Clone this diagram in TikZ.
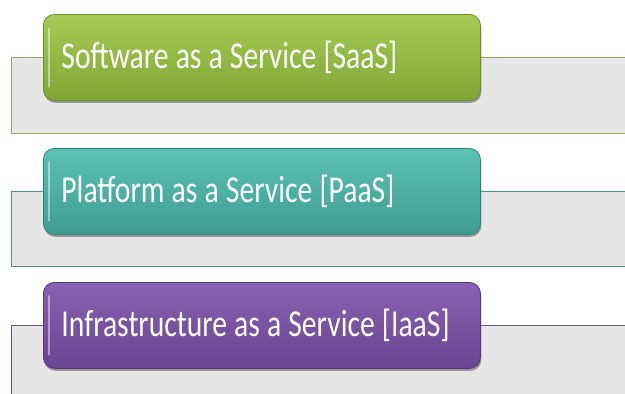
\documentclass[tikz,border=0pt]{standalone}
\usepackage{fontspec}
\setmainfont{Carlito}
\usetikzlibrary{shadows}
\definecolor{boxgrey}{HTML}{E6E6E6}
\definecolor{gtop}{HTML}{A6CB55}
\definecolor{gbot}{HTML}{7FA634}
\definecolor{gedge}{HTML}{6C8F2B}
\definecolor{gline}{HTML}{8FAA66}
\definecolor{ttop}{HTML}{5CC2B3}
\definecolor{tbot}{HTML}{3E9D90}
\definecolor{tedge}{HTML}{2F8478}
\definecolor{tline}{HTML}{4F8F88}
\definecolor{ptop}{HTML}{8762B0}
\definecolor{pbot}{HTML}{684591}
\definecolor{pedge}{HTML}{563A78}
\definecolor{pline}{HTML}{6C5483}
\newcommand{\svclabel}[1]{\scalebox{0.78}[1]{\fontsize{38}{42}\selectfont\spaceskip=0.24em\relax #1}}
\tikzset{
  panelbox/.style={fill=boxgrey, line width=0.9pt},
  svcnode/.style={rounded corners=11pt, minimum width=437pt, minimum height=86pt,
    text=white, anchor=north west,
    align=left, text width=401pt, inner xsep=18pt, line width=0.8pt,
    drop shadow={shadow xshift=1pt, shadow yshift=-2.5pt, opacity=0.35, fill=black}},
  gloss/.style={line width=1.6pt, line cap=round, white, opacity=0.45}
}
\begin{document}
\begin{tikzpicture}[x=1pt,y=-1pt]
\useasboundingbox (0,0) rectangle (625,394);
\clip (0,0) rectangle (625,394);
% panel 1
\draw[panelbox, draw=gline] (11,57) rectangle (640,133);
\node[svcnode, draw=gedge, top color=gtop, bottom color=gbot] (saas) at (43,14) {\svclabel{Software as a Service [SaaS]}};
\draw[gloss] ([xshift=6pt,yshift=-14pt]saas.north west) -- ([xshift=6pt,yshift=14pt]saas.south west);
% panel 2
\draw[panelbox, draw=tline] (11,191) rectangle (640,266);
\node[svcnode, draw=tedge, top color=ttop, bottom color=tbot] (paas) at (43,148) {\svclabel{Platform as a Service [PaaS]}};
\draw[gloss] ([xshift=6pt,yshift=-14pt]paas.north west) -- ([xshift=6pt,yshift=14pt]paas.south west);
% panel 3
\draw[panelbox, draw=pline] (11,325) rectangle (640,410);
\node[svcnode, draw=pedge, top color=ptop, bottom color=pbot] (iaas) at (43,282) {\svclabel{Infrastructure as a Service [IaaS]}};
\draw[gloss] ([xshift=6pt,yshift=-14pt]iaas.north west) -- ([xshift=6pt,yshift=14pt]iaas.south west);
\end{tikzpicture}
\end{document}
